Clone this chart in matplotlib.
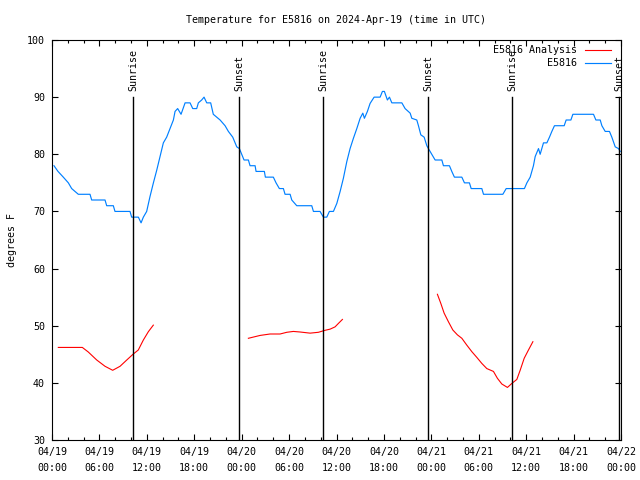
import numpy as np
import matplotlib
matplotlib.use("Agg")
import matplotlib.pyplot as plt
import matplotlib.dates as mdates
from datetime import datetime, timedelta

plt.rcParams['font.family'] = ['DejaVu Sans Mono']
plt.rcParams['font.size'] = 7.2

start = datetime(2024, 4, 19, 0, 0)

# station temperature (hours since 04/19 00:00 UTC, degrees F)
obs_hours = [0.25, 0.76, 1.43, 2.07, 2.49, 3.33, 4.81, 5.02, 6.71, 6.92, 7.76, 7.97, 9.87,
             10.08, 10.93, 11.27, 11.56, 11.98, 12.4, 12.83, 13.25, 13.67, 14.09, 14.51,
             14.94, 15.36, 15.57, 15.9, 16.33, 16.84, 17.47, 17.81, 18.31, 18.52, 18.94,
             19.24, 19.58, 20.08, 20.41, 21.27, 21.9, 22.32, 22.87, 23.38,
             23.71, 24.01, 24.30, 24.85, 25.06, 25.70, 25.82, 26.87, 27.00, 28.01, 28.35,
             28.77, 29.28, 29.49, 30.13, 30.34, 30.97, 32.87, 33.08, 33.92, 34.34, 34.77,
             35.10, 35.61, 36.04, 36.46, 36.87, 37.30, 37.72, 38.14, 38.57, 38.99, 39.33,
             39.53, 39.91, 40.25, 40.76, 41.52, 41.81, 42.06, 42.44, 42.70, 43.00, 44.27,
             44.68, 45.32, 45.53, 46.16, 46.37, 46.67,
             47.09, 47.43, 47.63, 48.06, 48.48, 49.33, 49.53, 50.29, 50.59, 50.92, 51.86,
             52.19, 52.82, 53.04, 54.39, 54.60, 57.05, 57.47, 59.78, 60.09, 60.51, 60.92,
             61.14, 61.56, 61.77, 62.19, 62.62, 62.95, 63.25, 63.58, 64.81, 65.06, 65.66,
             65.91, 68.52, 68.82, 69.37, 69.58, 70.00, 70.54, 70.84, 71.27, 71.68, 71.90]
obs_temp = [78, 77, 76, 75, 74, 73, 73, 72, 72, 71, 71, 70, 70,
            69, 69, 68, 69, 70, 72.6, 75, 77.2, 79.6, 82, 83,
            84.5, 86, 87.5, 88, 87, 89, 89, 88, 88, 89, 89.5,
            90, 89, 89, 87, 86, 85, 84, 83, 81.3,
            81, 80, 79, 79, 78, 78, 77, 77, 76, 76, 75,
            74, 74, 73, 73, 72, 71, 71, 70, 70, 69, 69,
            70, 70, 71.4, 73.5, 75.8, 78.7, 81, 82.8, 84.5, 86.3, 87.2,
            86.3, 87.5, 88.9, 90, 90, 91, 91, 89.5, 90, 89, 89,
            88, 87.2, 86.3, 86, 85, 83.4,
            83, 81.5, 81, 80, 79, 79, 78, 78, 77, 76, 76,
            75, 75, 74, 74, 73, 73, 74, 74, 75, 76, 78,
            79.6, 81, 80, 82, 82, 83, 84, 85, 85, 86, 86,
            87, 87, 86, 86, 85, 84, 84, 83, 81.3, 81, 80.5]

# analysis temperature, NaN marks gaps between runs
ana_hours = [0.80, 3.84, 4.59, 5.66, 6.71, 7.68, 8.61, 9.46, 10.29, 10.92, 11.56, 12.19, 12.82,
             18.0,
             24.85, 26.33, 27.59, 28.86, 29.71, 30.54, 31.39, 32.66, 33.71, 34.56, 35.19,
             35.82, 36.24, 36.75,
             42.0,
             48.77, 49.20, 49.62, 50.16, 50.72, 51.30, 51.86, 52.49, 53.13, 53.76, 54.39,
             55.02, 55.86, 56.36, 56.92, 57.63, 58.19, 58.82, 59.24, 59.75, 60.29, 60.85]
ana_temp = [46.2, 46.2, 45.4, 44.0, 42.9, 42.2, 42.9, 44.0, 45.05, 45.75, 47.5, 48.95, 50.1,
            np.nan,
            47.8, 48.3, 48.55, 48.55, 48.85, 49.0, 48.9, 48.7, 48.85, 49.2, 49.4,
            49.8, 50.4, 51.1,
            np.nan,
            55.5, 53.9, 52.2, 50.7, 49.25, 48.4, 47.8, 46.6, 45.45, 44.45, 43.4,
            42.5, 42.0, 40.8, 39.8, 39.2, 39.9, 40.6, 42.2, 44.3, 45.75, 47.2]

sun_hours = [10.25, 23.67, 34.3, 47.6, 58.2, 71.75]
sun_labels = ["Sunrise", "Sunset", "Sunrise", "Sunset", "Sunrise", "Sunset"]

obs_t = [start + timedelta(hours=h) for h in obs_hours]
ana_t = [start + timedelta(hours=h) for h in ana_hours]

fig = plt.figure(figsize=(6.4, 4.8), dpi=100)
ax = fig.add_axes([52/640, 40/480, 569/640, 400/480])

l1, = ax.plot(ana_t, ana_temp, color='#ff0000', lw=0.8)
l2, = ax.plot(obs_t, obs_temp, color='#0080ff', lw=0.85)

for h, lab in zip(sun_hours, sun_labels):
    t = start + timedelta(hours=h)
    ax.plot([t, t], [30, 90], color='black', lw=1.0)
    ax.text(t, 91, lab, rotation=90, ha='center', va='bottom', clip_on=False)

ax.set_xlim(start, start + timedelta(hours=72))
ax.set_ylim(30, 100)
ax.set_yticks(np.arange(30, 101, 10))
ax.xaxis.set_major_locator(mdates.HourLocator(byhour=[0, 6, 12, 18]))
ax.xaxis.set_minor_locator(mdates.HourLocator(interval=2))
ax.xaxis.set_major_formatter(mdates.DateFormatter('%m/%d\n%H:%M'))
for lab in ax.get_xticklabels():
    lab.set_linespacing(1.7)
ax.tick_params(which='both', direction='in', top=True, right=True, width=0.8)
ax.tick_params(which='major', length=4, pad=5)
ax.tick_params(which='minor', length=2)
for s in ax.spines.values():
    s.set_linewidth(0.8)

ax.set_ylabel("degrees F", labelpad=7)
ax.set_title("Temperature for E5816 on 2024-Apr-19 (time in UTC)", pad=12, fontsize=7.2)
ax.legend([l1, l2], ["E5816 Analysis", "E5816"], loc='upper right', frameon=False,
          markerfirst=False, handlelength=2.6, borderaxespad=0.3, labelspacing=0.3,
          bbox_to_anchor=(0.994, 1.005))

fig.savefig("out.png", dpi=100)
